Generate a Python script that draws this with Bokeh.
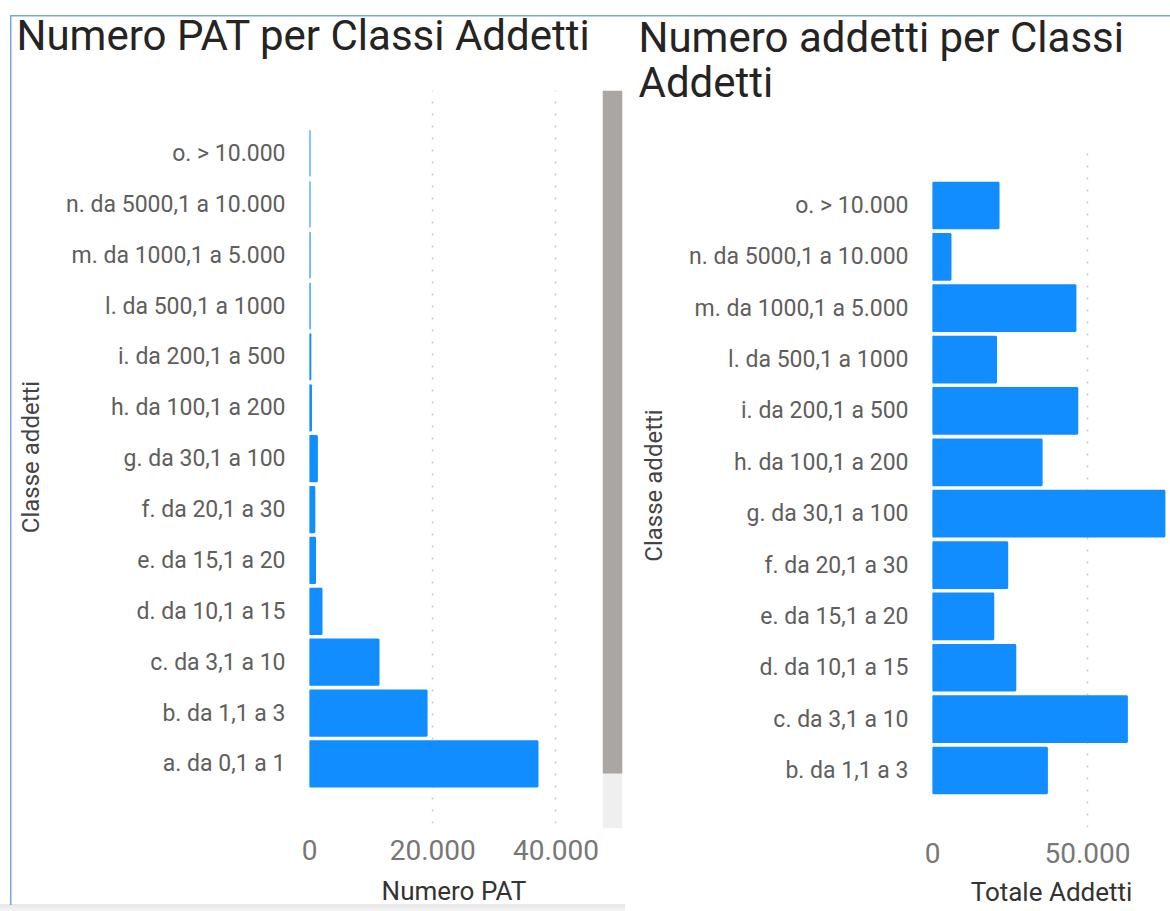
from bokeh.plotting import figure
from bokeh.models import Range1d, FixedTicker, ColumnDataSource
from bokeh.layouts import row, column
from bokeh.embed import file_html
from bokeh.resources import INLINE

# ---------------- data ----------------
classi_pat = ["a. da 0,1 a 1", "b. da 1,1 a 3", "c. da 3,1 a 10", "d. da 10,1 a 15",
              "e. da 15,1 a 20", "f. da 20,1 a 30", "g. da 30,1 a 100", "h. da 100,1 a 200",
              "i. da 200,1 a 500", "l. da 500,1 a 1000", "m. da 1000,1 a 5.000",
              "n. da 5000,1 a 10.000", "o. > 10.000"]
numero_pat = [37000, 19000, 11200, 1950, 900, 780, 1200, 240, 130, 30, 20, 2, 2]

classi_addetti = ["b. da 1,1 a 3", "c. da 3,1 a 10", "d. da 10,1 a 15", "e. da 15,1 a 20",
                  "f. da 20,1 a 30", "g. da 30,1 a 100", "h. da 100,1 a 200", "i. da 200,1 a 500",
                  "l. da 500,1 a 1000", "m. da 1000,1 a 5.000", "n. da 5000,1 a 10.000",
                  "o. > 10.000"]
totale_addetti = [36900, 62700, 26700, 19600, 24100, 74800, 35200, 46700, 20500, 46100, 5800, 21300]

pat_ticks = [0, 20000, 40000]
pat_tick_labels = ["0", "20.000", "40.000"]
add_ticks = [0, 50000, 100000]
add_tick_labels = ["0", "50.000", "100.000"]

scroll_thumb = [0.0745, 1.0]

# ---------------- style ----------------
BLUE = "#118DFF"
FONT = "Roboto"
TITLE_C = "#252423"
LABEL_C = "#605E5C"
TICK_C = "#777777"
GRID_C = "#c8c8c8"
H = 911
COMMON = dict(output_backend="svg", toolbar_location=None, border_fill_color=None)


def style_axes(p, xticks, xlabels, cats, xlabel, s1, s2):
    p.outline_line_color = None
    p.ygrid.visible = False
    p.xgrid.ticker = FixedTicker(ticks=xticks)
    p.xgrid.grid_line_color = GRID_C
    p.xgrid.grid_line_dash = "2 10"
    p.xgrid.grid_line_width = 1.5

    xa = p.xaxis[0]
    xa.ticker = FixedTicker(ticks=xticks)
    xa.major_label_overrides = {t: l for t, l in zip(xticks, xlabels)}
    xa.axis_line_color = None
    xa.major_tick_line_color = None
    xa.minor_tick_line_color = None
    xa.major_label_text_font = FONT
    xa.major_label_text_font_size = "28px"
    xa.major_label_text_color = TICK_C
    xa.major_label_standoff = s1
    xa.axis_label = xlabel
    xa.axis_label_text_font = FONT
    xa.axis_label_text_font_size = "26px"
    xa.axis_label_text_font_style = "normal"
    xa.axis_label_text_color = "#333333"
    xa.axis_label_standoff = s2

    ya = p.yaxis[0]
    ya.ticker = FixedTicker(ticks=list(range(len(cats))))
    ya.major_label_overrides = {i: c for i, c in enumerate(cats)}
    ya.axis_line_color = None
    ya.major_tick_line_color = None
    ya.minor_tick_line_color = None
    ya.major_label_text_font = FONT
    ya.major_label_text_font_size = "23px"
    ya.major_label_text_color = LABEL_C
    ya.major_label_standoff = 18
    ya.axis_label = "Classe addetti"
    ya.axis_label_text_font = FONT
    ya.axis_label_text_font_size = "24px"
    ya.axis_label_text_font_style = "normal"
    ya.axis_label_text_color = "#444444"
    ya.axis_label_standoff = 18


def title_fig(width, height, text, mb_left, mb_right, offset, standoff, line_h):
    t = figure(width=width, height=height, x_range=Range1d(0, 1), y_range=Range1d(0, 1),
               x_axis_location=None, y_axis_location=None,
               min_border_left=mb_left, min_border_right=mb_right,
               min_border_top=height - 2, min_border_bottom=0, **COMMON)
    t.grid.visible = False
    t.outline_line_color = None
    t.background_fill_color = None
    t.title.text = text
    t.title.text_font = FONT
    t.title.text_font_size = "42px"
    t.title.text_font_style = "normal"
    t.title.text_color = TITLE_C
    t.title.align = "left"
    t.title.offset = offset
    t.title.standoff = standoff
    t.title.text_line_height = line_h
    return t


# ---------------- left chart ----------------
t1 = title_fig(602, 62, "Numero PAT per Classi Addetti", 309, 4, -293, 2, 1.0)
src1 = ColumnDataSource(dict(y=list(range(len(classi_pat))), v=numero_pat))
p1 = figure(width=602, height=H - 62, x_range=Range1d(0, 46900), y_range=Range1d(-1.17, 13.238),
            min_border_left=309, min_border_right=4, min_border_top=28, min_border_bottom=88,
            **COMMON)
p1.hbar(y="y", left=0, right="v", height=0.89, source=src1,
        fill_color=BLUE, line_color=BLUE, line_width=2)
style_axes(p1, pat_ticks, pat_tick_labels, classi_pat, "Numero PAT", 10, 13)

# ---------------- scrollbar ----------------
p2 = figure(width=24, height=H, x_range=Range1d(0, 1), y_range=Range1d(0, 1),
            x_axis_location=None, y_axis_location=None,
            min_border_left=0, min_border_right=4, min_border_top=90, min_border_bottom=83,
            **COMMON)
p2.grid.visible = False
p2.outline_line_color = None
p2.quad(left=0, right=1, bottom=0, top=1, fill_color="#efefef", line_color=None)
p2.quad(left=0, right=1, bottom=scroll_thumb[0], top=scroll_thumb[1],
        fill_color="#a9a6a4", line_color=None)

# ---------------- right chart ----------------
t3 = title_fig(544, 112, "Numero addetti per Classi\nAddetti", 306, 0, -294, 6, 0.93)
src3 = ColumnDataSource(dict(y=list(range(len(classi_addetti))), v=totale_addetti))
p3 = figure(width=544, height=H - 112, x_range=Range1d(0, 76770), y_range=Range1d(-1.11, 12.207),
            min_border_left=306, min_border_right=0, min_border_top=31, min_border_bottom=84,
            **COMMON)
p3.hbar(y="y", left=0, right="v", height=0.89, source=src3,
        fill_color=BLUE, line_color=BLUE, line_width=2)
style_axes(p3, add_ticks, add_tick_labels, classi_addetti, "Totale Addetti", 9, 11)

frame_css = ("linear-gradient(#72a9dd,#72a9dd) 10px 15px / 1.5px 890px no-repeat, "
             "linear-gradient(#72a9dd,#72a9dd) 10px 15px / 1160px 1.5px no-repeat, "
             "linear-gradient(#e6e6e6,#f4f4f4) 0px 904px / 625px 7px no-repeat, #ffffff")

layout = row(column(t1, p1), p2, column(t3, p3), styles={"background": frame_css})

open("out.html", "w").write(file_html(layout, INLINE))
